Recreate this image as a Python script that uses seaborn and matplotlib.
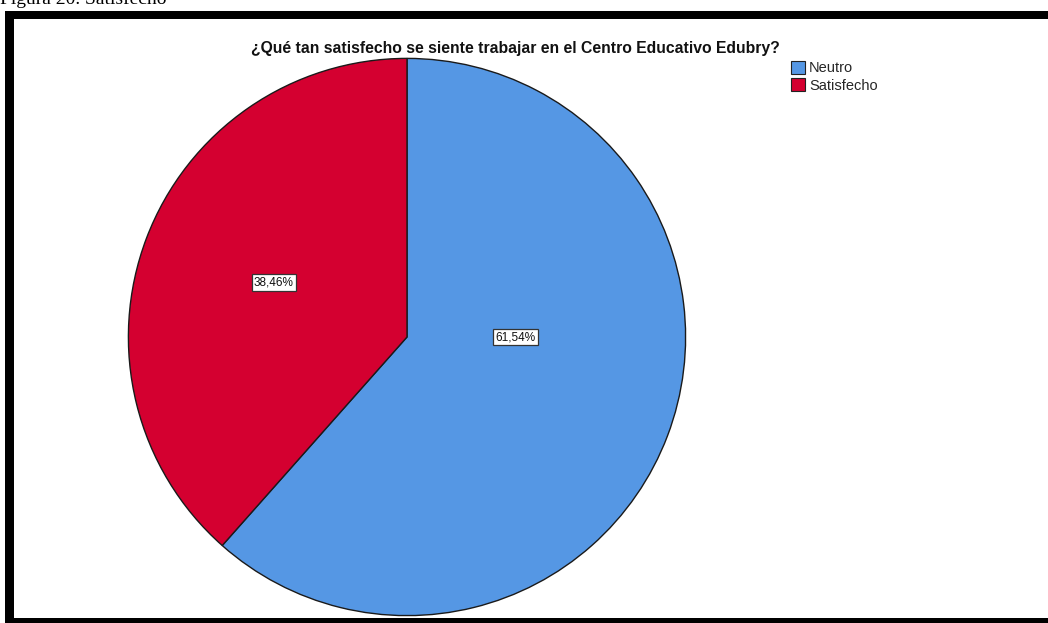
import matplotlib
matplotlib.use("Agg")
import matplotlib.pyplot as plt
from matplotlib.patches import Rectangle, Patch
import seaborn as sns

sns.set_theme(style="white")
plt.rcParams['font.family'] = ['Liberation Sans', 'DejaVu Sans']

categories = ["Neutro", "Satisfecho"]
values = [61.54, 38.46]
pct_labels = ["61,54%", "38,46%"]
colors = ["#5597E4", "#D40030"]
title = "¿Qué tan satisfecho se siente trabajar en el Centro Educativo Edubry?"
caption = "Figura 20. Satisfecho"

W, H = 1048, 623
fig = plt.figure(figsize=(W / 100, H / 100), dpi=100)
fig.patch.set_facecolor("white")

def fx(px):
    return px / W

def fy(py):
    return 1 - py / H

# pie axes: center (407, 337), radius 280 px
cx, cy, r = 407, 337, 280
ax = fig.add_axes([fx(cx - r), fy(cy + r), 2 * r / W, 2 * r / H])
wedges, _ = ax.pie(values, colors=colors, startangle=90, counterclock=False,
                   wedgeprops=dict(edgecolor="#1a1a1a", linewidth=1.0),
                   radius=1.0)
ax.set_xlim(-1.005, 1.005)
ax.set_ylim(-1.005, 1.005)
ax.set_aspect("equal")
ax.axis("off")

# label positions (axes data units)
label_pos = [(0.39, 0.0), (-0.478, 0.196)]
for (x, y), lab in zip(label_pos, pct_labels):
    ax.text(x, y, lab, ha="center", va="center", fontsize=8.5, color="#111111",
            bbox=dict(boxstyle="square,pad=0.2", facecolor="white",
                      edgecolor="#333333", linewidth=0.9))

fig.text(fx(515), fy(48), title, ha="center", va="center", fontsize=11.3,
         fontweight="bold", color="#111111")

handles = [Patch(facecolor=c, edgecolor="#222222", linewidth=0.8) for c in colors]
leg = fig.legend(handles, categories, loc="upper left",
                 bbox_to_anchor=(fx(791), fy(61)), frameon=False, fontsize=10.5,
                 handlelength=0.95, handleheight=0.95, handletextpad=0.3,
                 labelspacing=0.2, borderaxespad=0, borderpad=0)

# frame
black = "#000000"
fig.patches.append(Rectangle((fx(5), fy(19)), fx(W - 5), 8 / H, transform=fig.transFigure,
                             facecolor=black, edgecolor="none"))
fig.patches.append(Rectangle((fx(5), fy(623)), fx(9), (623 - 11) / H, transform=fig.transFigure,
                             facecolor=black, edgecolor="none"))
fig.patches.append(Rectangle((fx(5), fy(623)), fx(W - 5), 5 / H, transform=fig.transFigure,
                             facecolor=black, edgecolor="none"))

fig.text(fx(0), fy(3.5), caption, ha="left", va="baseline", fontsize=14,
         family=["Liberation Serif", "DejaVu Serif"], color="black")

fig.savefig("out.png", dpi=100, facecolor="white")
